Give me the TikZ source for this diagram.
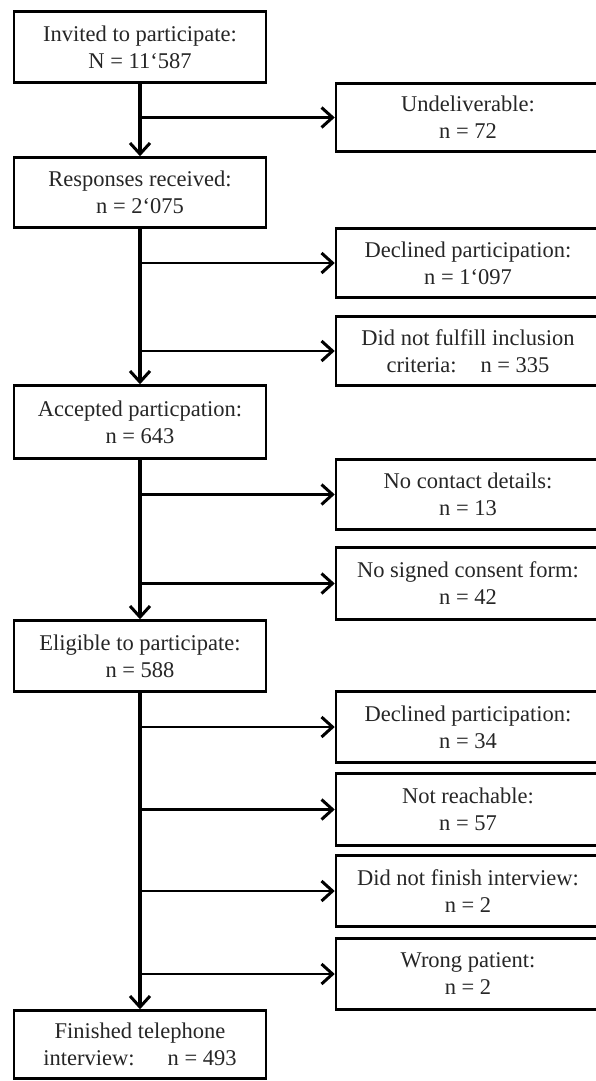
\documentclass[tikz,border=0pt]{standalone}
\usepackage{fontspec}
\setmainfont{Liberation Serif}
\usetikzlibrary{arrows.meta}
\begin{document}
\begin{tikzpicture}[x=1pt,y=-1pt,
  box/.style={draw=black, line width=2.5pt, rectangle, align=center,
    font=\fontsize{22.5}{27}\selectfont, text=black!85, inner sep=0pt},
  lbox/.style={box, minimum width=252pt},
  rbox/.style={box, minimum width=264pt},
  tip/.style={-{Straight Barb[length=11pt,width=20pt,line width=3pt]}},
  flow/.style={tip, line width=3.5pt},
  side/.style={tip, line width=2.5pt}]
\useasboundingbox (0,0) rectangle (596,1081);
\fill[white] (0,0) rectangle (596,1081);
% main column
\node[lbox, minimum height=71pt] (A) at (140,47) {Invited to participate:\\N = 11‘587};
\node[lbox, minimum height=70pt] (B) at (140,192.5) {Responses received:\\n = 2‘075};
\node[lbox, minimum height=73pt] (C) at (140,422) {Accepted particpation:\\n = 643};
\node[lbox, minimum height=71pt] (D) at (140,656) {Eligible to participate:\\n = 588};
\node[lbox, minimum height=68pt] (E) at (140,1044.5) {Finished telephone\\interview:\hspace{33pt}n = 493};
% side boxes
\node[rbox, minimum height=68pt] (R1) at (468,117.5) {Undeliverable:\\n = 72};
\node[rbox, minimum height=69pt] (R2) at (468,263) {Declined participation:\\n = 1‘097};
\node[rbox, minimum height=69pt] (R3) at (468,351) {Did not fulfill inclusion\\criteria:\hspace{24pt}n = 335};
\node[rbox, minimum height=70pt] (R4) at (468,494.5) {No contact details:\\n = 13};
\node[rbox, minimum height=72pt] (R5) at (468,583.5) {No signed consent form:\\n = 42};
\node[rbox, minimum height=71pt] (R6) at (468,727) {Declined participation:\\n = 34};
\node[rbox, minimum height=72pt] (R7) at (468,809.5) {Not reachable:\\n = 57};
\node[rbox, minimum height=71pt] (R8) at (468,891) {Did not finish interview:\\n = 2};
\node[rbox, minimum height=71pt] (R9) at (468,974) {Wrong patient:\\n = 2};
% vertical flow
\draw[flow] (A.south) -- (B.north);
\draw[flow] (B.south) -- (C.north);
\draw[flow] (C.south) -- (D.north);
\draw[flow] (D.south) -- (E.north);
% side branches
\foreach \r/\m in {R1/A,R2/B,R3/B,R4/C,R5/C,R6/D,R7/D,R8/D,R9/D}
  \draw[side] (\m.south |- \r.west) -- (\r.west);
\end{tikzpicture}
\end{document}
